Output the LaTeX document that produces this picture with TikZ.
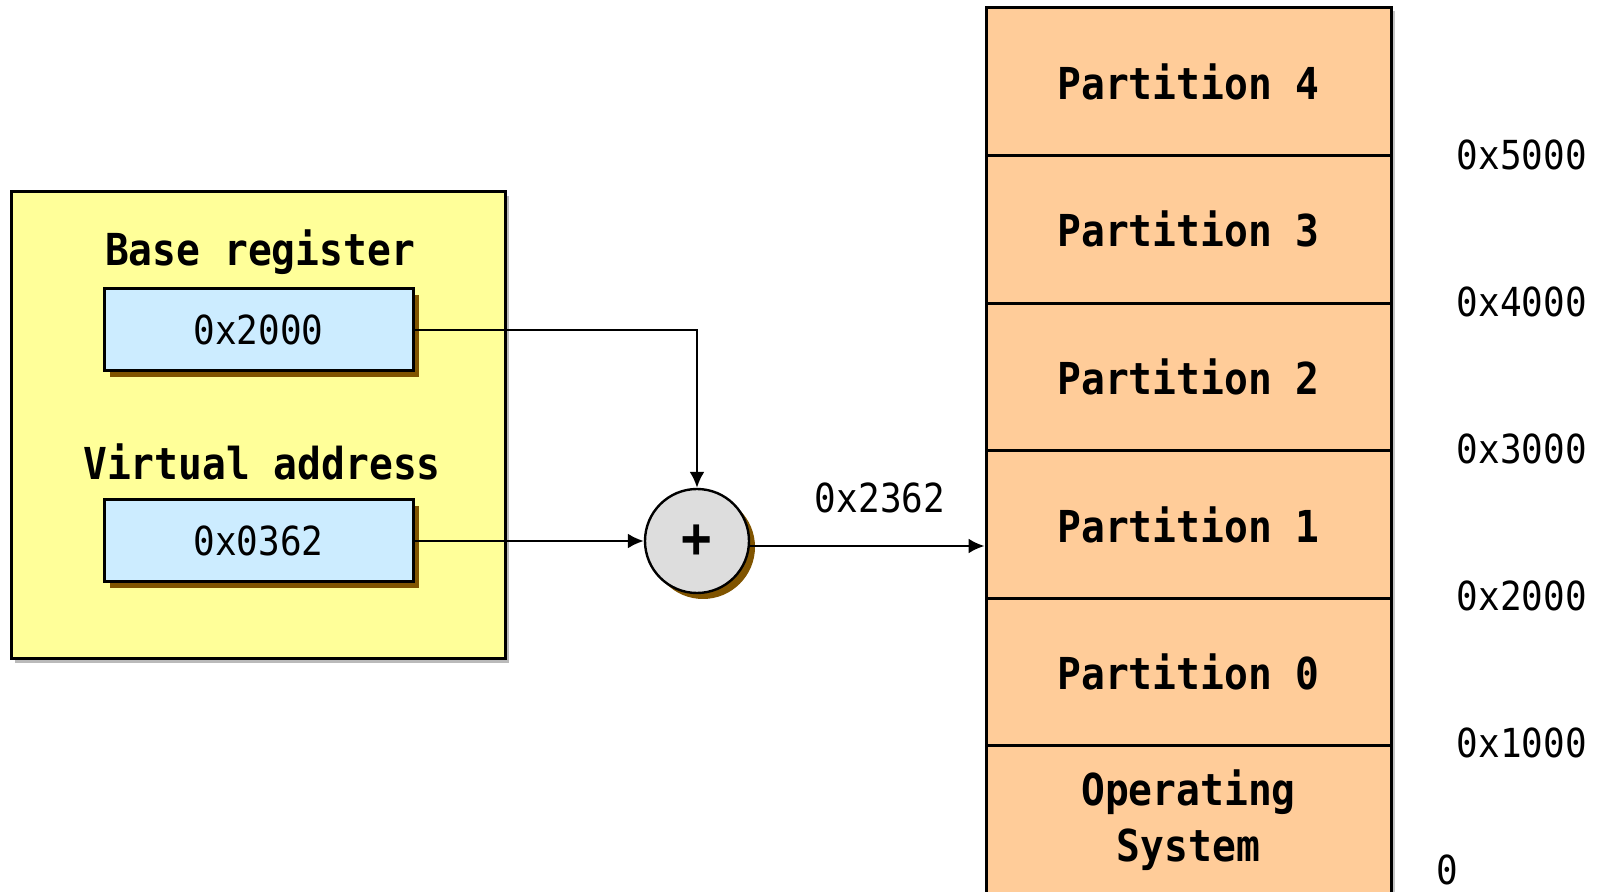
\documentclass[tikz,border=0pt]{standalone}
\usepackage{fontspec}
\usetikzlibrary{shadows,arrows.meta}
\newfontfamily\codefont[FakeStretch=0.9]{DejaVu Sans Mono}
\definecolor{reg_yellow}{RGB}{255,255,153}
\definecolor{reg_blue}{RGB}{204,236,255}
\definecolor{part_orange}{RGB}{255,204,153}
\definecolor{adder_grey}{RGB}{221,221,221}
\definecolor{shadow_brown}{RGB}{128,84,0}

\begin{document}
\begin{tikzpicture}[x=0.5pt, y=-0.5pt, every node/.style={font=\codefont}]
    \tikzstyle{cpu_box}=[draw, line width=1.5pt, fill=reg_yellow, minimum width=247pt, minimum height=233.5pt,
      drop shadow={shadow xshift=2pt, shadow yshift=-2pt, fill=black!45, opacity=0.6}]
    \tikzstyle{reg_box}=[draw, line width=1.5pt, fill=reg_blue, minimum width=154.5pt, minimum height=41pt,
      font=\codefont\fontsize{20}{24}\selectfont,
      drop shadow={shadow xshift=3pt, shadow yshift=-3pt, fill=shadow_brown, opacity=1}]
    \tikzstyle{reg_label}=[anchor=base, font=\codefont\bfseries\fontsize{22}{26}\selectfont]
    \tikzstyle{part_box}=[draw, line width=1.5pt, fill=part_orange, minimum width=202.5pt, minimum height=73.8pt,
      font=\codefont\bfseries\fontsize{22}{28}\selectfont, align=center,
      drop shadow={shadow xshift=2pt, shadow yshift=-1.5pt, fill=black!45, opacity=0.5}]
    \tikzstyle{addr_label}=[font=\codefont\fontsize{20}{24}\selectfont]
    \tikzstyle{link}=[line width=1.2pt, -{Latex[length=8pt, width=7.5pt]}]

    \useasboundingbox (0,0) rectangle (1602,892);

    % --- relocation registers ---
    \node[cpu_box] (cpu) at (258,425.5) {};
    \node[reg_label] (base_lbl) at (260,266) {Base register};
    \node[reg_box] (base_reg) at (258.5,330) {0x2000};
    \node[reg_label] (virt_lbl) at (262,480) {Virtual address};
    \node[reg_box] (virt_reg) at (258.5,541) {0x0362};

    % --- adder ---
    \node[circle, draw, line width=1.2pt, fill=adder_grey, minimum size=52pt, inner sep=0pt,
      font=\codefont\bfseries\fontsize{28}{30}\selectfont,
      drop shadow={shadow xshift=3pt, shadow yshift=-3pt, fill=shadow_brown, opacity=1}] (adder) at (697,541) {+};

    % --- physical memory ---
    \node[part_box] (part4) at (1188.5,81.8) {Partition 4};
    \node[part_box] (part3) at (1188.5,229.4) {Partition 3};
    \node[part_box] (part2) at (1188.5,377) {Partition 2};
    \node[part_box] (part1) at (1188.5,524.6) {Partition 1};
    \node[part_box] (part0) at (1188.5,672.2) {Partition 0};
    \node[part_box] (os) at (1188.5,819.8) {Operating\\System};

    % Addresses
    \node[addr_label, anchor=east] (a5) at (1594,155) {0x5000};
    \node[addr_label, anchor=east] (a4) at (1594,302) {0x4000};
    \node[addr_label, anchor=east] (a3) at (1594,449) {0x3000};
    \node[addr_label, anchor=east] (a2) at (1594,596) {0x2000};
    \node[addr_label, anchor=east] (a1) at (1594,743) {0x1000};
    \node[addr_label] (a0) at (1447,870) {0};

    % --- connectors ---
    \draw[link] (base_reg.east) -| (adder.north);
    \draw[link] (virt_reg.east) -- (adder.west);
    \draw[link] ([yshift=-2.5pt]adder.east) -- ([yshift=-2.5pt]adder.east -| part1.west);
    \node[addr_label] (phys_lbl) at (880,498) {0x2362};
\end{tikzpicture}
\end{document}
